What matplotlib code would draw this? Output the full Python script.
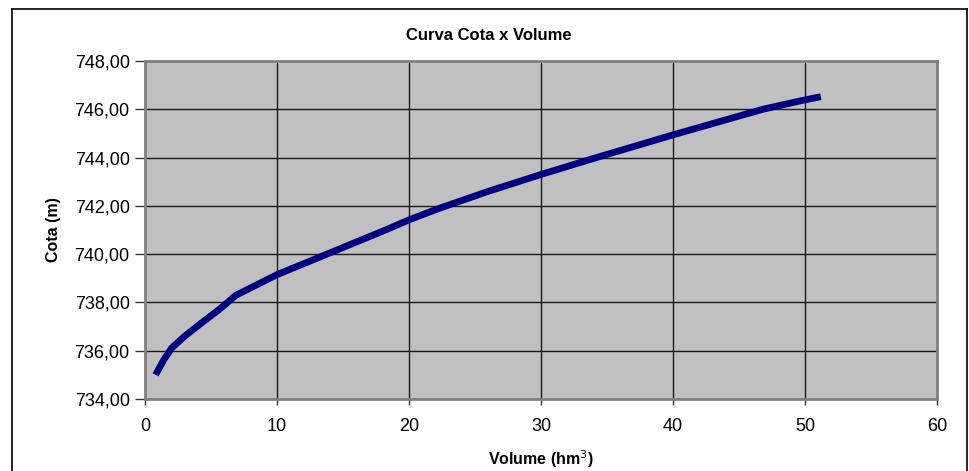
import matplotlib
matplotlib.use("Agg")
import matplotlib.pyplot as plt
from matplotlib.ticker import FuncFormatter, MultipleLocator
from matplotlib.lines import Line2D

plt.rcParams["font.family"] = ["Liberation Sans", "DejaVu Sans"]

# Curva cota x volume do reservatório
volume = [0.8, 1.4, 2.0, 3.0, 4.4, 5.6, 6.9, 10.0, 14.0, 18.0, 20.0,
          22.2, 26.0, 30.0, 34.2, 40.0, 46.8, 50.0, 51.2]
cota = [735.00, 735.60, 736.10, 736.60, 737.20, 737.70, 738.30, 739.15,
        740.05, 740.95, 741.42, 741.88, 742.60, 743.30, 744.00, 744.94,
        746.00, 746.39, 746.52]

fig = plt.figure(figsize=(9.70, 4.71), dpi=100)
ax = fig.add_axes([145 / 970, 1 - 399 / 471, 792 / 970, 338 / 471])
ax.set_facecolor("#C0C0C0")

ax.plot(volume, cota, color="#000080", linewidth=4.9, solid_capstyle="butt",
        solid_joinstyle="round", zorder=3)

ax.set_xlim(0, 60)
ax.set_ylim(734, 748)
ax.xaxis.set_major_locator(MultipleLocator(10))
ax.yaxis.set_major_locator(MultipleLocator(2))
ax.yaxis.set_major_formatter(FuncFormatter(lambda v, p: f"{v:.2f}".replace(".", ",")))

ax.grid(True, color="#1a1a1a", linewidth=1.0)
ax.set_axisbelow(True)
for s in ax.spines.values():
    s.set_color("#808080")
    s.set_linewidth(2.0)

ax.tick_params(axis="y", direction="out", length=7, width=1, color="#333333",
               labelsize=13, pad=4)
ax.tick_params(axis="x", direction="out", length=4, width=1, color="#333333",
               labelsize=13, pad=10)

fig.text(489 / 970, 1 - 36 / 471, "Curva Cota x Volume", fontsize=12,
         fontweight="bold", ha="center", va="center")
ax.set_ylabel("Cota (m)", fontsize=11.5, fontweight="bold", labelpad=10)
ax.set_xlabel("Volume (hm$^3$)", fontsize=11.5, fontweight="bold", labelpad=9)

# moldura externa do gráfico
x0, x1 = 12 / 970, 967 / 970
ytop = 1 - 9 / 471
for xs, ys in [([x0, x0], [-0.05, ytop]), ([x1, x1], [-0.05, ytop]),
               ([x0, x1], [ytop, ytop])]:
    fig.add_artist(Line2D(xs, ys, color="black", linewidth=1.2,
                          transform=fig.transFigure))

fig.savefig("out.png", dpi=100)
